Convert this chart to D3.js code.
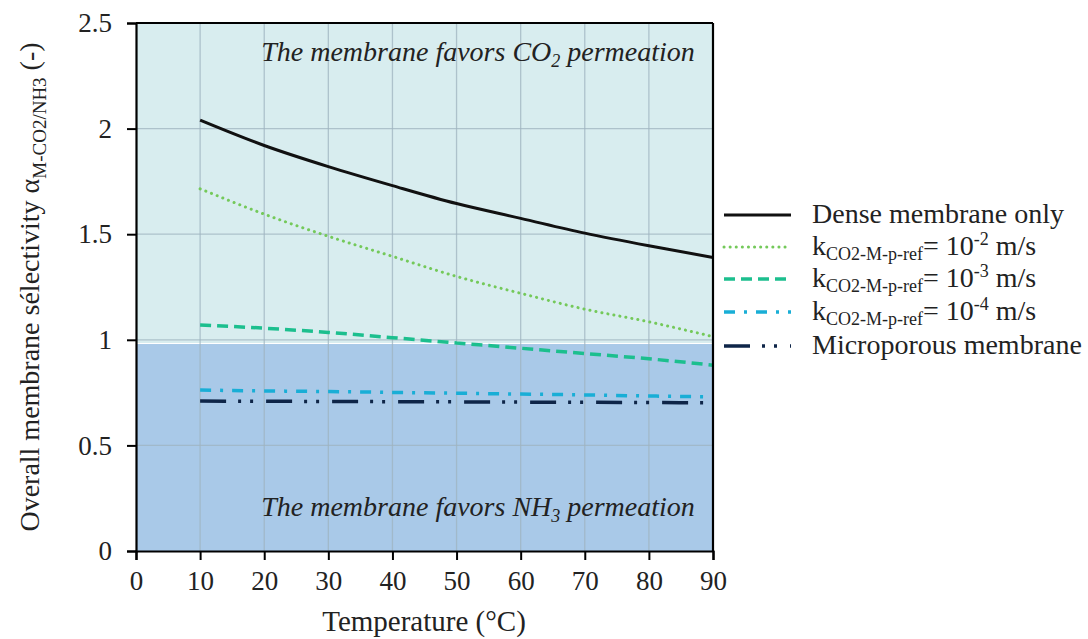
<!DOCTYPE html>
<html><head><meta charset="utf-8">
<script src="https://cdn.jsdelivr.net/npm/d3@7"></script>
<style>body{margin:0;background:#fff;} svg{display:block;}</style>
</head><body><svg id="c" width="1088" height="639"></svg>
<script>
const temperatures = [10,20,30,40,50,60,70,80,90];
const denseOnly = [2.04,1.92,1.82,1.73,1.645,1.575,1.505,1.445,1.39];
const k1e2 = [1.715,1.595,1.49,1.395,1.30,1.22,1.145,1.085,1.015];
const k1e3 = [1.07,1.055,1.035,1.01,0.985,0.96,0.935,0.91,0.88];
const k1e4 = [0.762,0.758,0.755,0.751,0.747,0.743,0.739,0.734,0.730];
const microporous = [0.710,0.709,0.708,0.707,0.706,0.705,0.704,0.703,0.702];
const xTicks = [0,10,20,30,40,50,60,70,80,90];
const yTicks = [0,0.5,1,1.5,2,2.5];

const FF = '"Liberation Serif"';
const svg = d3.select("#c");
const L=136,R=713,T=23,B=551;
const x = d3.scaleLinear().domain([0,90]).range([L,R]);
const y = d3.scaleLinear().domain([0,2.5]).range([B,T]);

svg.append("rect").attr("x",L).attr("y",y(2.5)).attr("width",R-L).attr("height",y(0.985)-y(2.5)).attr("fill","#d8edef");
svg.append("rect").attr("x",L).attr("y",y(0.98)).attr("width",R-L).attr("height",y(0)-y(0.98)).attr("fill","#a9c9e8");

const g = svg.append("g");
xTicks.slice(1).forEach(t=>g.append("line").attr("x1",x(t)).attr("x2",x(t)).attr("y1",T).attr("y2",B).attr("stroke","#9fb4c0").attr("stroke-width",1.3).attr("opacity",0.75));
yTicks.slice(1).forEach(t=>g.append("line").attr("x1",L).attr("x2",R).attr("y1",y(t)).attr("y2",y(t)).attr("stroke","#9fb4c0").attr("stroke-width",1.3).attr("opacity",0.75));

svg.append("text").attr("x",478).attr("y",61).attr("text-anchor","middle").attr("font-style","italic").attr("font-size",28).attr("fill","#222").attr("font-family",FF)
  .html('The membrane favors CO<tspan font-size="18" dy="6">2</tspan><tspan dy="-6"> permeation</tspan>');
svg.append("text").attr("x",478).attr("y",516).attr("text-anchor","middle").attr("font-style","italic").attr("font-size",28).attr("fill","#222").attr("font-family",FF)
  .html('The membrane favors NH<tspan font-size="18" dy="6">3</tspan><tspan dy="-6"> permeation</tspan>');

const series = [
  {vals:denseOnly, color:"#111111", w:3, dash:null, cap:"butt"},
  {vals:k1e2, color:"#74c95a", w:3, dash:"0.1 6", cap:"round"},
  {vals:k1e3, color:"#1cbf8e", w:3.5, dash:"11 6", cap:"butt"},
  {vals:k1e4, color:"#19aed6", w:3.5, dash:"11 9 3 9", cap:"butt"},
  {vals:microporous, color:"#0e2548", w:3.5, dash:"26 12 3 9 3 13", cap:"butt"}
];
const line = d3.line().x((d,i)=>x(temperatures[i])).y(d=>y(d)).curve(d3.curveMonotoneX);
series.forEach(s=>{
  svg.append("path").attr("d",line(s.vals)).attr("fill","none").attr("stroke",s.color).attr("stroke-width",s.w)
    .attr("stroke-dasharray",s.dash).attr("stroke-linecap",s.cap);
});

const xa = svg.append("g").attr("transform",`translate(0,${B})`).call(d3.axisBottom(x).tickValues(xTicks).tickSize(9).tickFormat(d3.format("d")));
const ya = svg.append("g").attr("transform",`translate(${L},0)`).call(d3.axisLeft(y).tickValues(yTicks).tickSize(9).tickFormat(d=>d));
[xa,ya].forEach(a=>{a.attr("font-family",FF).attr("font-size",27);
  a.select(".domain").attr("stroke","#000").attr("stroke-width",2.2);
  a.selectAll(".tick line").attr("stroke","#000").attr("stroke-width",2);
  a.selectAll("text").attr("fill","#222");});
xa.selectAll("text").attr("y",20).attr("dy","0.71em");
ya.selectAll("text").attr("x",-24).attr("dy","0.32em");
svg.append("line").attr("x1",L).attr("x2",R).attr("y1",T).attr("y2",T).attr("stroke","#000").attr("stroke-width",2.2);
svg.append("line").attr("x1",R).attr("x2",R).attr("y1",T).attr("y2",B).attr("stroke","#000").attr("stroke-width",2.2);

svg.append("text").attr("x",424).attr("y",631).attr("text-anchor","middle").attr("font-size",29).attr("fill","#222").attr("font-family",FF).text("Temperature (°C)");
svg.append("text").attr("transform","translate(39,287) rotate(-90)").attr("text-anchor","middle").attr("font-size",28).attr("fill","#222").attr("font-family",FF)
  .html('Overall membrane sélectivity α<tspan font-size="19" dy="7">M-CO2/NH3</tspan><tspan dy="-7"> (-)</tspan>');

const legendLabels = [
  'Dense membrane only',
  'k<tspan font-size="18" dy="5">CO2-M-p-ref</tspan><tspan dy="-5">= 10</tspan><tspan font-size="18" dy="-10">-2</tspan><tspan dy="10"> m/s</tspan>',
  'k<tspan font-size="18" dy="5">CO2-M-p-ref</tspan><tspan dy="-5">= 10</tspan><tspan font-size="18" dy="-10">-3</tspan><tspan dy="10"> m/s</tspan>',
  'k<tspan font-size="18" dy="5">CO2-M-p-ref</tspan><tspan dy="-5">= 10</tspan><tspan font-size="18" dy="-10">-4</tspan><tspan dy="10"> m/s</tspan>',
  'Microporous membrane'
];
const legendY = [215,247,279,312,346];
series.forEach((s,i)=>{
  const ly = legendY[i];
  svg.append("line").attr("x1",724).attr("x2",791).attr("y1",ly).attr("y2",ly).attr("stroke",s.color).attr("stroke-width",s.w)
    .attr("stroke-dasharray",s.dash).attr("stroke-linecap",s.cap);
  svg.append("text").attr("x",812).attr("y",ly+8).attr("font-size",28).attr("fill","#222").attr("font-family",FF).html(legendLabels[i]);
});
</script></body></html>
